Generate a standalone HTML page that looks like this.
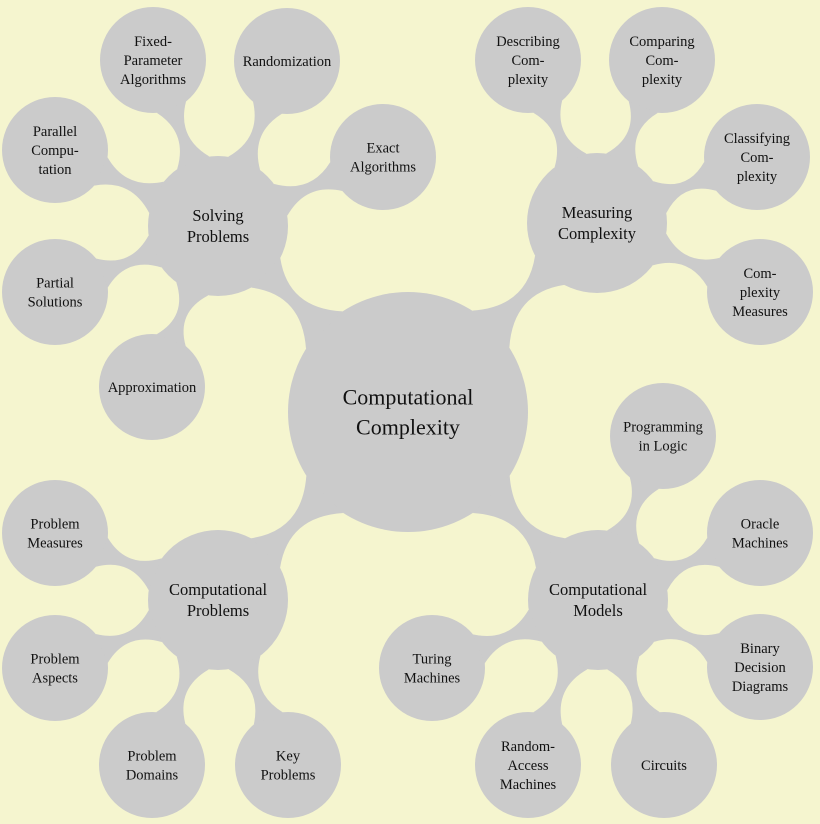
<!DOCTYPE html>
<html><head><meta charset="utf-8"><style>
html,body{margin:0;padding:0;background:#f5f5cf;}
svg{display:block}
text{font-family:"Liberation Serif",serif;fill:#111;text-anchor:middle}
</style></head><body>
<svg id="s" width="820" height="824" viewBox="0 0 820 824" xmlns="http://www.w3.org/2000/svg">
<rect width="820" height="824" fill="#f5f5cf"/>
<g id="g" fill="#cbcbcb"></g>
<g id="t"></g>
</svg>
<script>
var C={x:408,y:412,r:120};
var mids=[
 {x:218,y:226,r:70,l:["Solving","Problems"],k:[
  [153,60,["Fixed-","Parameter","Algorithms"]],[287,61,["Randomization"]],[383,157,["Exact","Algorithms"]],
  [55,150,["Parallel","Compu-","tation"]],[55,292,["Partial","Solutions"]],[152,387,["Approximation"]]]},
 {x:597,y:223,r:70,l:["Measuring","Complexity"],k:[
  [528,60,["Describing","Com-","plexity"]],[662,60,["Comparing","Com-","plexity"]],[757,157,["Classifying","Com-","plexity"]],[760,292,["Com-","plexity","Measures"]]]},
 {x:218,y:600,r:70,l:["Computational","Problems"],k:[
  [55,533,["Problem","Measures"]],[55,668,["Problem","Aspects"]],[152,765,["Problem","Domains"]],[288,765,["Key","Problems"]]]},
 {x:598,y:600,r:70,l:["Computational","Models"],k:[
  [663,436,["Programming","in Logic"]],[760,533,["Oracle","Machines"]],[760,667,["Binary","Decision","Diagrams"]],
  [664,765,["Circuits"]],[528,765,["Random-","Access","Machines"]],[432,668,["Turing","Machines"]]]}
];
var g=document.getElementById('g'),t=document.getElementById('t'),NS="http://www.w3.org/2000/svg";
function el(p,n,a){var e=document.createElementNS(NS,n);for(var k in a)e.setAttribute(k,a[k]);p.appendChild(e);return e;}
function circ(x,y,r){el(g,'circle',{cx:x,cy:y,r:r});}
function conn(a,b,w,tha,thb){
 var dx=b.x-a.x,dy=b.y-a.y,d=Math.hypot(dx,dy),ux=dx/d,uy=dy/d,nx=-uy,ny=ux;
 var ca=Math.cos(tha),sa=Math.sin(tha),cb=Math.cos(thb),sb=Math.sin(thb);
 var a1=[a.x+a.r*(ux*ca+nx*sa),a.y+a.r*(uy*ca+ny*sa)],a2=[a.x+a.r*(ux*ca-nx*sa),a.y+a.r*(uy*ca-ny*sa)];
 var b1=[b.x+b.r*(-ux*cb+nx*sb),b.y+b.r*(-uy*cb+ny*sb)],b2=[b.x+b.r*(-ux*cb-nx*sb),b.y+b.r*(-uy*cb-ny*sb)];
 var ga=a.r+(d-a.r-b.r)/2,mx=a.x+ux*ga,my=a.y+uy*ga;
 var p="M"+a1+" Q"+(mx+nx*w)+","+(my+ny*w)+" "+b1+" L"+b2+" Q"+(mx-nx*w)+","+(my-ny*w)+" "+a2+"Z";
 el(g,'path',{d:p});
}
function label(x,y,lines,fs,lh){
 var y0=y-(lines.length-1)*lh/2+fs*0.33;
 lines.forEach(function(L,i){var e=el(t,'text',{x:x,y:y0+i*lh,'font-size':fs});e.textContent=L;});
}
circ(C.x,C.y,C.r);
label(C.x,C.y,["Computational","Complexity"],22,30);
mids.forEach(function(m){
 circ(m.x,m.y,m.r);conn(C,m,-10,0.22,0.3);
 label(m.x,m.y,m.l,16.5,21);
 m.k.forEach(function(k){var n={x:k[0],y:k[1],r:53};circ(n.x,n.y,n.r);conn(m,n,-6,0.25,0.3);label(n.x,n.y,k[2],14.5,19);});
});
</script>
</body></html>
